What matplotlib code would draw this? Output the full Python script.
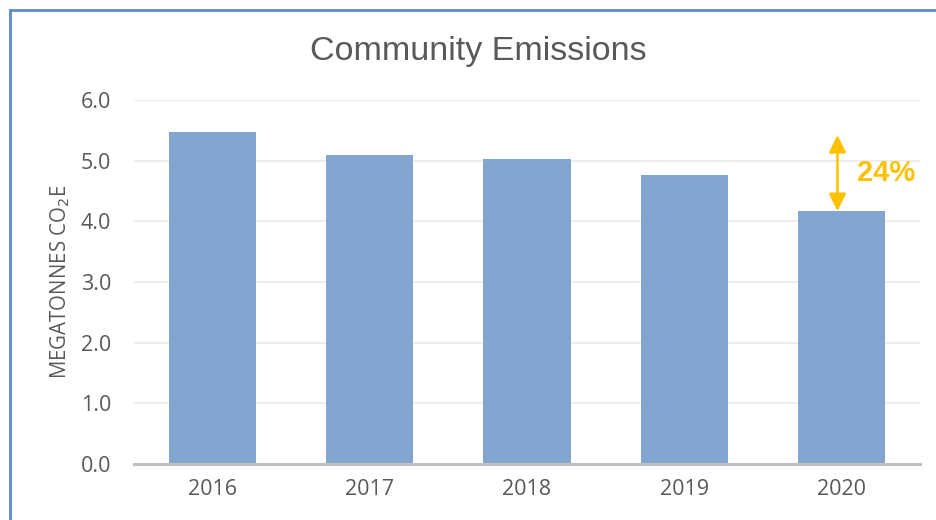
import matplotlib
matplotlib.use("Agg")
import matplotlib.pyplot as plt
from matplotlib.lines import Line2D

years = ["2016", "2017", "2018", "2019", "2020"]
emissions = [5.47, 5.09, 5.03, 4.77, 4.17]
yticks = [0.0, 1.0, 2.0, 3.0, 4.0, 5.0, 6.0]
arrow_top = 5.42
change_label = "24%"

fig = plt.figure(figsize=(9.36, 5.2), dpi=100)
ax = fig.add_axes([134/936, 1-464/520, (920-134)/936, (464-100)/520])

x = range(len(years))
ax.bar(x, emissions, width=0.555, color="#82A5CF", zorder=2)
ax.set_xlim(-0.5, len(years)-0.5)
ax.set_ylim(0, 6.0)
ax.set_yticks(yticks)
ax.set_yticklabels([f"{v:.1f}" for v in yticks])
ax.set_xticks(list(x))
ax.set_xticklabels(years)
ax.yaxis.grid(True, color="#EBEBEB", linewidth=1.2, zorder=0)
ax.set_axisbelow(True)
for s in ["top", "right", "left"]:
    ax.spines[s].set_visible(False)
ax.spines["bottom"].set_color("#BFBFBF")
ax.spines["bottom"].set_linewidth(2.2)
ax.spines["bottom"].set_zorder(3)
ax.tick_params(axis="both", length=0, labelsize=15.5, labelcolor="#595959")
ax.tick_params(axis="y", pad=16.5)
ax.tick_params(axis="x", pad=11)
for lab in ax.get_xticklabels() + ax.get_yticklabels():
    lab.set_fontfamily("Open Sans")

ax.set_ylabel("MEGATONNES CO$_2$E", fontsize=14.8, color="#595959", family="Open Sans")
ax.yaxis.set_label_coords((72-134)/786, 0.5)

fig.text(478/936, 1-60/520, "Community Emissions", ha="center", va="baseline",
         fontsize=24.5, color="#595959", family="Liberation Sans")

# annotation arrow
ax.annotate("", xy=(4 - 0.025, arrow_top), xytext=(4 - 0.025, emissions[-1]),
            arrowprops=dict(arrowstyle="<|-|>", color="#FFC000", lw=1.8,
                            mutation_scale=26, shrinkA=0, shrinkB=0), zorder=4)
ax.text(4 + 0.10, (arrow_top + emissions[-1]) / 2, change_label, color="#FFC000",
        fontsize=21, fontweight="bold", family="Liberation Sans", ha="left", va="center")

# outer border
fig.add_artist(Line2D([9.5/936, 9.5/936], [0, 1-9.5/520], transform=fig.transFigure,
                      color="#5B8BD0", lw=2))
fig.add_artist(Line2D([9.5/936, 1], [1-9.5/520, 1-9.5/520], transform=fig.transFigure,
                      color="#5B8BD0", lw=2))

fig.savefig("out.png", dpi=100)
